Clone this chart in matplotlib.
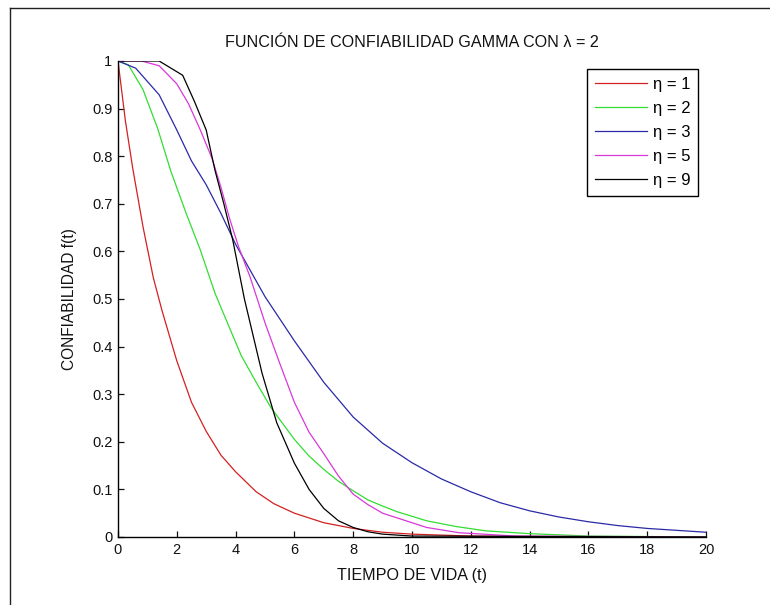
import matplotlib
matplotlib.use("Agg")
import matplotlib.pyplot as plt
from matplotlib.lines import Line2D

# ---- data ----
t_eta1 = [0, 0.25, 0.5, 0.85, 1.2, 1.5, 2.0, 2.5, 3.0, 3.5, 4.0, 4.7, 5.3, 6.0, 7.0, 8.0, 9.0, 10, 12, 14, 20]
r_eta1 = [1, 0.875, 0.775, 0.652, 0.545, 0.475, 0.37, 0.283, 0.222, 0.172, 0.137, 0.095, 0.07, 0.05, 0.03, 0.018, 0.01, 0.006, 0.002, 0.001, 0]

t_eta2 = [0, 0.35, 0.85, 1.35, 1.8, 2.3, 2.8, 3.3, 3.7, 4.2, 4.7, 5.2, 6.0, 6.5, 7.0, 7.5, 8.0, 8.5, 9.0, 9.5, 10.5, 11.5, 12.5, 14, 16, 20]
r_eta2 = [1, 0.992, 0.94, 0.858, 0.768, 0.683, 0.603, 0.512, 0.453, 0.38, 0.325, 0.272, 0.205, 0.17, 0.142, 0.117, 0.097, 0.078, 0.065, 0.053, 0.034, 0.022, 0.013, 0.007, 0.002, 0]

t_eta3 = [0, 0.6, 1.4, 2.0, 2.5, 3.0, 3.5, 4.0, 4.5, 5.0, 6.0, 7.0, 8.0, 9.0, 10, 11, 12, 13, 14, 15, 16, 17, 18, 19, 20]
r_eta3 = [1, 0.985, 0.929, 0.855, 0.79, 0.74, 0.68, 0.615, 0.56, 0.505, 0.412, 0.325, 0.252, 0.197, 0.156, 0.122, 0.095, 0.072, 0.055, 0.042, 0.032, 0.024, 0.018, 0.014, 0.01]

t_eta5 = [0, 0.8, 1.4, 2.0, 2.4, 2.8, 3.2, 3.5, 3.8, 4.1, 4.5, 5.0, 5.5, 6.0, 6.5, 7.0, 7.5, 8.0, 8.5, 9.0, 9.5, 10.5, 11.6, 13.5, 20]
r_eta5 = [1, 1.0, 0.99, 0.952, 0.91, 0.855, 0.795, 0.735, 0.668, 0.61, 0.545, 0.45, 0.365, 0.283, 0.22, 0.175, 0.128, 0.09, 0.068, 0.05, 0.04, 0.02, 0.009, 0.002, 0]

t_eta9 = [0, 1.4, 2.2, 2.6, 3.0, 3.3, 3.6, 3.9, 4.3, 4.9, 5.4, 6.0, 6.5, 7.0, 7.5, 8.0, 8.5, 9.0, 10, 20]
r_eta9 = [1, 1, 0.97, 0.915, 0.855, 0.77, 0.70, 0.625, 0.50, 0.344, 0.24, 0.155, 0.10, 0.06, 0.034, 0.02, 0.011, 0.006, 0.002, 0]

labels = ["η = 1", "η = 2", "η = 3", "η = 5", "η = 9"]
x_ticks = [0, 2, 4, 6, 8, 10, 12, 14, 16, 18, 20]
y_ticks = [0, 0.1, 0.2, 0.3, 0.4, 0.5, 0.6, 0.7, 0.8, 0.9, 1]
y_tick_labels = ["0", "0.1", "0.2", "0.3", "0.4", "0.5", "0.6", "0.7", "0.8", "0.9", "1"]

title = "FUNCIÓN DE CONFIABILIDAD GAMMA CON λ = 2"
xlabel = "TIEMPO DE VIDA (t)"
ylabel = "CONFIABILIDAD f(t)"

# ---- styling ----
plt.rcParams['font.family'] = ['Liberation Sans', 'DejaVu Sans']
colors = ['#d42020', '#33dd33', '#2a2aa8', '#d838d8', '#000000']
W, H = 770, 605
fig = plt.figure(figsize=(W / 100, H / 100), dpi=100)
fig.patch.set_facecolor('white')

# outer frame of the screenshot (left + top)
fig.add_artist(Line2D([10 / W, 10 / W], [0, 1 - 8 / H], color='#202020', lw=1.0, transform=fig.transFigure))
fig.add_artist(Line2D([10 / W, 1], [1 - 8 / H, 1 - 8 / H], color='#202020', lw=1.0, transform=fig.transFigure))

left, right, top, bottom = 118 / W, 706 / W, 1 - 61 / H, 1 - 537 / H
ax = fig.add_axes([left, bottom, right - left, top - bottom])

series = [(t_eta1, r_eta1), (t_eta2, r_eta2), (t_eta3, r_eta3), (t_eta5, r_eta5), (t_eta9, r_eta9)]
for (t, r), c, lab in zip(series, colors, labels):
    ax.plot(t, r, color=c, lw=0.9, label=lab)

ax.set_xlim(0, 20)
ax.set_ylim(0, 1)
ax.set_xticks(x_ticks)
ax.set_xticklabels([str(v) for v in x_ticks])
ax.set_yticks(y_ticks)
ax.set_yticklabels(y_tick_labels)
for s in ['top', 'right']:
    ax.spines[s].set_visible(False)
for s in ['left', 'bottom']:
    ax.spines[s].set_linewidth(1.0)
ax.tick_params(direction='in', length=4, width=0.9, labelsize=10.5, colors='#111111', pad=4)

ax.set_title(title, fontsize=11.6, pad=10, color='#111111')
ax.set_xlabel(xlabel, fontsize=11.6, labelpad=8, color='#111111')
ax.set_ylabel(ylabel, fontsize=11.2, labelpad=11, color='#111111')

leg = ax.legend(loc='upper right', bbox_to_anchor=(698 / W, 1 - 69 / H), bbox_transform=fig.transFigure,
                borderaxespad=0, fancybox=False, framealpha=1, edgecolor='black',
                fontsize=12, handlelength=3.15, labelspacing=0.55, handletextpad=0.35,
                borderpad=0.45)
leg.get_frame().set_linewidth(1.0)

fig.savefig('out.png', dpi=100, facecolor='white')
